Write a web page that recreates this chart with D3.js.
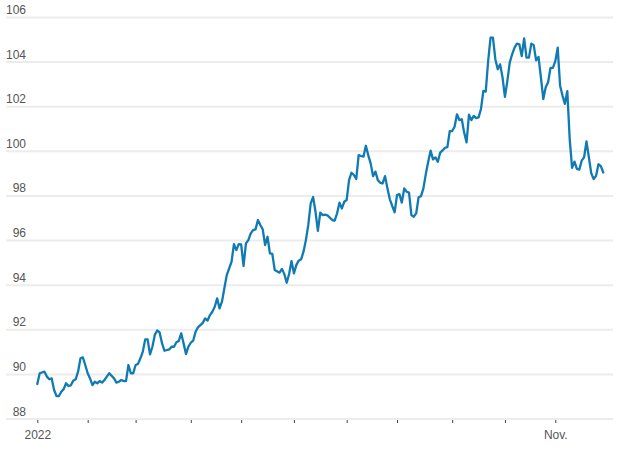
<!DOCTYPE html>
<html>
<head>
<meta charset="utf-8">
<script src="https://cdn.jsdelivr.net/npm/d3@7"></script>
<style>
  body { margin: 0; background: #fff; }
  svg { display: block; font-family: "Liberation Sans", Arial, sans-serif; }
</style>
</head>
<body>
<div class="holder"></div>
<script>
// trading day number (weekdays counted from Mon Jan 3, 2022) and index value
var days = [0,1,3,4,5,6,7,8,9,10,11,12,13,14,15,16,17,18,19,20,21,22,23,24,25,26,27,28,29,30,
  32,33,34,35,36,37,38,39,40,41,42,43,44,45,46,47,48,49,50,51,52,53,55,56,57,58,59,60,61,62,
  63,64,65,66,67,68,69,70,71,72,73,74,75,76,77,78,79,81,82,83,84,85,86,87,88,89,90,91,92,93,
  94,95,96,97,98,99,101,102,103,104,105,106,107,108,109,110,111,112,113,114,115,116,117,118,119,120,
  121,123,124,125,126,127,128,129,130,131,132,133,134,135,136,137,138,139,140,141,142,143,144,145,146,147,
  148,149,150,151,152,153,154,155,156,157,158,159,160,161,162,163,164,165,166,167,168,169,170,171,172,173,
  174,175,176,177,178,179,180,181,182,183,184,185,186,187,188,189,190,191,192,193,194,195,196,197,198,199,
  200,201,202,203,204,205,206,207,208,209,210,211,212,213,214,215,216,217,218,219,220,221,222,223,224,225,
  226,227,228,229,230,231,232,233,234,235,236,237]

var values = [89.57,90.05,90.12,89.9,89.78,89.82,89.3,89.03,89.03,89.22,89.34,89.6,89.48,89.51,89.72,89.78,90.12,90.72,90.76,90.42,90.05,89.82,89.52,89.67,89.6,89.7,89.63,89.75,89.9,90.05,
  89.82,89.63,89.67,89.75,89.7,89.7,90.42,90.05,90.05,90.42,90.47,90.72,91.02,91.57,91.57,90.9,91.24,91.77,91.97,91.88,91.4,91.06,91.12,91.24,91.24,91.44,91.5,91.84,91.39,90.91,
  91.24,91.42,91.51,91.91,92.11,92.21,92.31,92.51,92.41,92.66,92.81,93.03,93.41,92.96,93.26,93.86,94.45,95.05,95.84,95.57,95.84,95.83,94.86,95.87,96.02,96.32,96.47,96.5,96.92,96.7,
  96.5,95.8,96.17,95.43,95.4,94.68,94.56,94.73,94.5,94.11,94.5,95.08,94.53,94.9,95.1,95.16,95.5,96.02,96.7,97.67,97.95,97.3,96.44,97.25,97.14,
  97.16,97.13,96.92,96.89,97.22,97.7,97.44,97.74,97.82,98.71,99.04,98.94,98.76,99.83,99.79,99.76,100.25,99.83,99.46,98.89,99.09,98.71,98.59,98.56,98.89,98.34,
  97.85,97.55,97.27,98.04,98.08,97.7,98.34,98.19,98.15,97.14,97.07,97.22,97.94,97.99,98.34,98.98,99.53,100.03,99.64,99.73,99.53,99.94,100.04,100.16,100.19,100.91,
  100.91,101.1,101.66,101.4,101.44,100.84,100.4,101.64,101.4,101.59,101.49,101.52,101.89,102.71,102.68,104.05,105.1,105.1,104.13,103.68,103.9,103.31,102.44,103.15,103.98,104.35,
  104.65,104.83,104.8,104.27,105.06,104.2,104.2,104.83,104.76,104.08,104.23,103.31,102.34,102.87,103.1,103.74,103.74,104.04,104.65,102.94,102.5,102.13,102.7,100.56,99.26,99.54,
  99.21,99.18,99.58,99.73,100.45,99.73,99.01,98.76,98.9,99.42,99.34,99.05]

// first trading day of each month, Jan to Nov
var monthDays = [0, 21, 41, 64, 85, 107, 129, 150, 173, 195, 216]
var monthLabels = ['2022', '', '', '', '', '', '', '', '', '', 'Nov.']

var yTicks = [88, 90, 92, 94, 96, 98, 100, 102, 104, 106]

var data = days.map(function(d, i) { return { day: d, value: values[i] } })

var chart = d3.select('.holder')
  .append('svg')
  .attr('width', 620)
  .attr('height', 450)

var xScale = d3.scaleLinear()
  .domain([0, 216])
  .range([37.3, 555.3])

var yScale = d3.scaleLinear()
  .domain([88, 106])
  .range([419, 17.5])

// gridlines
chart.append('g')
  .selectAll('line')
  .data(yTicks)
  .enter()
  .append('line')
  .attr('x1', 6)
  .attr('x2', 613)
  .attr('y1', function(d) { return yScale(d) })
  .attr('y2', function(d) { return yScale(d) })
  .attr('stroke', '#ececec')
  .attr('stroke-width', 2)

chart.append('g')
  .selectAll('text')
  .data(yTicks)
  .enter()
  .append('text')
  .attr('x', 26)
  .attr('y', function(d) { return yScale(d) - 3.5 })
  .attr('text-anchor', 'end')
  .style('font-size', '12px')
  .attr('fill', '#555')
  .text(function(d) { return d })

var xAxis = d3.axisBottom(xScale)
  .tickValues(monthDays)
  .tickSize(4)
  .tickPadding(7)
  .tickFormat(function(d, i) { return monthLabels[i] })

var xChart = chart.append('g')
  .attr('transform', 'translate(0,419)')
  .call(xAxis)

xChart.select('.domain').remove()
xChart.selectAll('.tick line').attr('stroke', '#444').attr('y1', 1)
xChart.selectAll('.tick text')
  .style('font-size', '12px')
  .style('font-family', '"Liberation Sans", Arial, sans-serif')
  .attr('fill', '#555')

var line = d3.line()
  .x(function(d) { return xScale(d.day) })
  .y(function(d) { return yScale(d.value) })

chart.append('path')
  .datum(data)
  .attr('d', line)
  .attr('fill', 'none')
  .attr('stroke', '#0f7bb2')
  .attr('stroke-width', 2.3)
  .attr('stroke-linejoin', 'round')
  .attr('stroke-linecap', 'round')
</script>
</body>
</html>
